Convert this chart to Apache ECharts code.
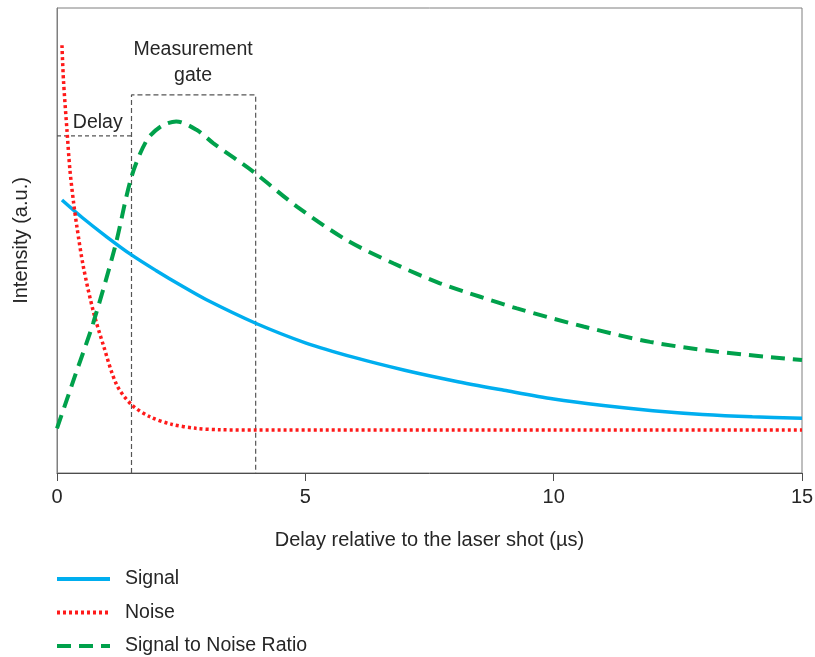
<!DOCTYPE html>
<html>
<head>
<meta charset="utf-8">
<script src="https://cdn.jsdelivr.net/npm/echarts@6/dist/echarts.min.js"></script>
<style>html,body{margin:0;padding:0;background:#fff}#c{width:815px;height:657px}</style>
</head>
<body>
<div id="c"></div>
<script>
// Delay (µs)
var xTicks = [0, 5, 10, 15];

var signalX = [0.1, 0.5, 1.0, 1.5, 2.0, 2.5, 3.0, 4.0, 5.0, 6.0, 7.0, 8.0, 9.0, 10.0, 11.0, 12.0, 13.0, 14.0, 15.0];
var signalY = [58.7, 55.0, 50.8, 46.9, 43.5, 40.3, 37.3, 32.2, 28.0, 24.8, 22.1, 19.8, 17.8, 15.9, 14.5, 13.4, 12.6, 12.1, 11.8];

var noiseX = [0.1, 0.13, 0.2, 0.26, 0.33, 0.4, 0.53, 0.73, 0.93, 1.2, 1.5, 1.87, 2.3, 2.8, 3.3, 4.0, 6.0, 8.0, 10.0, 12.0, 15.0];
var noiseY = [92.0, 84.5, 73.8, 65.2, 58.5, 53.0, 44.4, 34.8, 27.6, 19.0, 14.7, 12.1, 10.5, 9.6, 9.3, 9.25, 9.25, 9.25, 9.25, 9.25, 9.25];

var snrX = [0, 0.35, 0.73, 1.17, 1.5, 1.81, 2.1, 2.4, 2.81, 3.15, 3.95, 4.83, 5.83, 6.77, 7.71, 8.52, 9.26, 10.6, 11.94, 13.28, 15.0];
var snrY = [9.6, 20.5, 32.3, 48.7, 63.7, 71.6, 74.6, 75.6, 73.8, 70.9, 64.8, 57.3, 50.1, 45.1, 40.8, 37.9, 35.4, 31.5, 28.2, 26.1, 24.3];

// Measurement gate and delay markers
var gateStart = 1.5, gateEnd = 4.0, gateTop = 81.3, delayLevel = 72.5;

function pairs(xs, ys) { return xs.map(function (x, i) { return [x, ys[i]]; }); }

var font = '"Liberation Sans", Arial, sans-serif';
var txt = '#262626';
var chart = echarts.init(document.getElementById('c'), null, {renderer: 'canvas'});
chart.setOption({
  animation: false,
  grid: {left: 57, right: 13, top: 8, bottom: 184, containLabel: false, outerBoundsMode: 'none',
    show: true, borderColor: '#7f7f7f', borderWidth: 1},
  xAxis: {
    type: 'value', min: 0, max: 15, interval: 5,
    name: 'Delay relative to the laser shot (µs)', nameLocation: 'middle', nameGap: 57,
    nameTextStyle: {fontFamily: font, fontSize: 20, color: txt},
    axisLine: {show: true, lineStyle: {color: '#4d4d4d', width: 1}},
    axisTick: {show: true, length: 8, lineStyle: {color: '#4d4d4d'}},
    axisLabel: {fontFamily: font, fontSize: 20, color: txt, margin: 14,
      formatter: function (v) { return xTicks.indexOf(v) >= 0 ? String(v) : ''; }},
    splitLine: {show: false}
  },
  yAxis: {
    type: 'value', min: 0, max: 100,
    name: 'Intensity (a.u.)', nameLocation: 'middle', nameGap: 26,
    nameTextStyle: {fontFamily: font, fontSize: 20, color: txt},
    axisLine: {show: true, lineStyle: {color: '#7f7f7f', width: 1}},
    axisTick: {show: false}, axisLabel: {show: false}, splitLine: {show: false}
  },
  legend: {
    orient: 'vertical', left: 55, top: 569, height: 140, itemWidth: 53, itemHeight: 20, itemGap: 13.5,
    padding: 0,
    itemStyle: {opacity: 0},
    lineStyle: {width: 4},
    textStyle: {fontFamily: font, fontSize: 19.5, color: txt, padding: [0, 0, 0, 10]},
    data: ['Signal', 'Noise', 'Signal to Noise Ratio']
  },
  series: [
    {name: 'Signal', type: 'line', data: pairs(signalX, signalY), smooth: 0.3, symbol: 'none',
      lineStyle: {color: '#00AEEF', width: 3.5}, itemStyle: {color: '#00AEEF'}, z: 3},
    {name: 'Noise', type: 'line', data: pairs(noiseX, noiseY), smooth: 0.3, symbol: 'none',
      lineStyle: {color: '#FF1A1A', width: 3.5, type: [3, 3]}, itemStyle: {color: '#FF1A1A'}, z: 3},
    {name: 'Signal to Noise Ratio', type: 'line', data: pairs(snrX, snrY), smooth: 0.3, symbol: 'none',
      lineStyle: {color: '#00A14B', width: 4, type: [14, 8]}, itemStyle: {color: '#00A14B'}, z: 3},
    {name: 'gate', type: 'line', symbol: 'none', silent: true, z: 2,
      data: [[gateStart, 0], [gateStart, gateTop], [gateEnd, gateTop], [gateEnd, 0]],
      lineStyle: {color: '#555', width: 1.2, type: [5, 3]}},
    {name: 'delay', type: 'line', symbol: 'none', silent: true, z: 2,
      data: [[0, delayLevel], [gateStart, delayLevel]],
      lineStyle: {color: '#555', width: 1.2, type: [4, 3]}},
    {name: 'labels', type: 'scatter', symbolSize: 1, silent: true, z: 4,
      itemStyle: {opacity: 0},
      data: [
        {value: [(gateStart + gateEnd) / 2, 88.25], label: {formatter: 'Measurement\ngate'}},
        {value: [0.83, 75.15], label: {formatter: 'Delay'}}
      ],
      label: {show: true, position: [0, 0], fontFamily: font, fontSize: 19.5, color: txt, opacity: 1, lineHeight: 26, align: 'center', verticalAlign: 'middle'}}
  ]
});
</script>
</body>
</html>
